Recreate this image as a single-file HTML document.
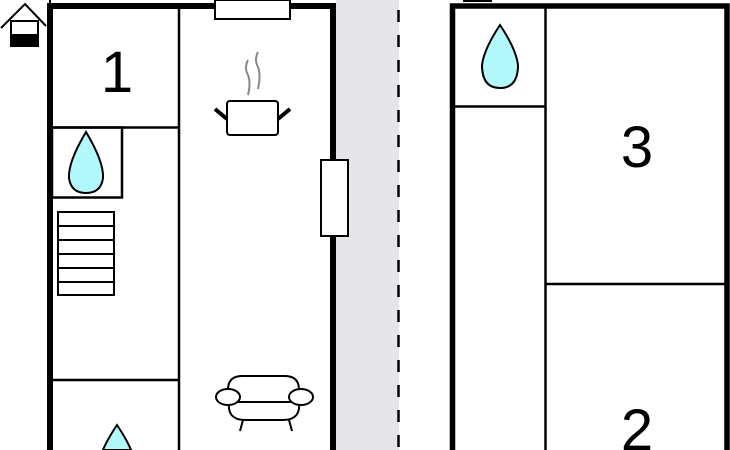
<!DOCTYPE html>
<html><head><style>html,body{margin:0;background:#fff;width:730px;height:450px;overflow:hidden}svg{display:block;overflow:hidden}</style></head><body>
<svg width="730" height="450" viewBox="0 0 730 450" xmlns="http://www.w3.org/2000/svg">
<rect x="336" y="0" width="63" height="450" fill="#e6e6ea"/>
<line x1="398.5" y1="10" x2="398.5" y2="450" stroke="#000" stroke-width="2.5" stroke-dasharray="12,13"/>
<!-- left building -->
<rect x="53" y="9" width="277" height="441" fill="#fff"/>
<polyline points="50,450 50,6 333,6 333,450" fill="none" stroke="#000" stroke-width="6"/>
<line x1="50" y1="0" x2="50" y2="5" stroke="#000" stroke-width="2"/>
<g stroke="#000" stroke-width="2.5" fill="none">
<line x1="179" y1="8" x2="179" y2="450"/>
<line x1="52" y1="127.5" x2="179" y2="127.5"/>
<rect x="52" y="127.5" width="70" height="70"/>
<line x1="52" y1="380" x2="179" y2="380"/>
</g>
<g stroke="#000" stroke-width="2" fill="#fff">
<rect x="58" y="212" width="56" height="83"/>
<line x1="58" y1="226" x2="114" y2="226"/><line x1="58" y1="240" x2="114" y2="240"/><line x1="58" y1="254" x2="114" y2="254"/><line x1="58" y1="268" x2="114" y2="268"/><line x1="58" y1="282" x2="114" y2="282"/>
<rect x="215" y="0" width="75" height="19"/>
<rect x="321" y="160" width="27" height="76"/>
</g>
<text x="117" y="92" font-family="Liberation Sans, sans-serif" font-size="58" text-anchor="middle">1</text>
<path d="M248 60 q-4 8 0 15 q3 8 0 20 M258 52 q-4 8 0 15 q3 8 0 22" stroke="#888" stroke-width="2" fill="none"/>
<rect x="227" y="101" width="51" height="34" rx="3" fill="#fff" stroke="#000" stroke-width="2"/>
<line x1="215" y1="109" x2="227" y2="119" stroke="#000" stroke-width="4"/>
<line x1="290" y1="109" x2="278" y2="119" stroke="#000" stroke-width="4"/>
<g stroke="#000" stroke-width="2" fill="#fff">
<path d="M228 402 v-12 q0 -14 14 -14 h43 q14 0 14 14 v12 z"/>
<path d="M229 402 h70 q2 18 -16 18 h-38 q-18 0 -16 -18 z"/>
<ellipse cx="228" cy="397" rx="12" ry="8"/>
<ellipse cx="301" cy="397" rx="12" ry="8"/>
<line x1="243" y1="420" x2="240" y2="431"/><line x1="289" y1="420" x2="292" y2="431"/>
</g>
<path d="M1 28 L25 4 L46 26" stroke="#000" stroke-width="2" fill="none"/>
<rect x="11" y="21" width="27" height="25" fill="#fff" stroke="#000" stroke-width="2"/>
<rect x="11" y="34" width="27" height="12" fill="#000"/>
<!-- right building -->
<rect x="463" y="0" width="29" height="2" fill="#000"/>
<polyline points="452.5,450 452.5,6 727,6 727,450" fill="none" stroke="#000" stroke-width="5.5"/>
<g stroke="#000" stroke-width="2.5">
<line x1="545.5" y1="8" x2="545.5" y2="450"/>
<line x1="455" y1="106.5" x2="545" y2="106.5"/>
<line x1="545" y1="284" x2="725" y2="284"/>
</g>
<text x="637" y="167" font-family="Liberation Sans, sans-serif" font-size="58" text-anchor="middle">3</text>
<text x="637" y="450" font-family="Liberation Sans, sans-serif" font-size="58" text-anchor="middle">2</text>
<g fill="#b3f8fb" stroke="#000" stroke-width="2">
<path d="M86 132 q18 30 17 46 q-2 15 -17 15 q-15 0 -17 -15 q-1 -16 17 -46 z"/>
<path d="M117 425 q10 15 14 25 h-28 q4 -10 14 -25 z"/>
<path d="M500 25 q16 24 18 40 q0 23 -18 23 q-18 0 -18 -23 q2 -16 18 -40 z"/>
</g>
</svg>
</body></html>
